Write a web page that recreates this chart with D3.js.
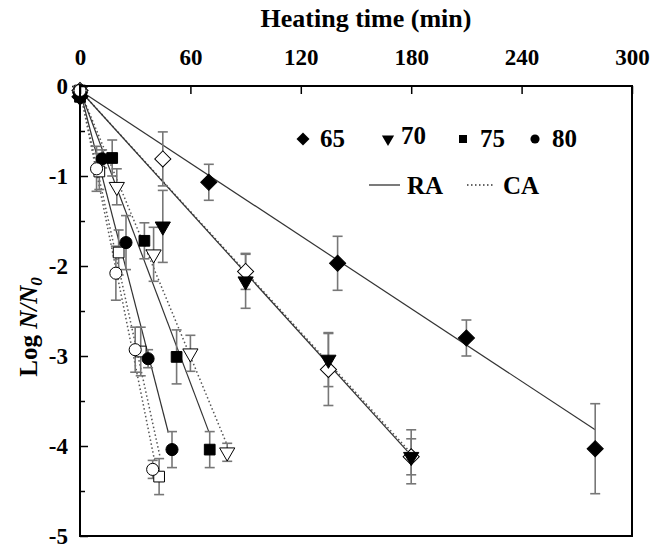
<!DOCTYPE html>
<html><head><meta charset="utf-8">
<script src="https://cdn.jsdelivr.net/npm/d3@7"></script>
<style>body{margin:0;background:#fff}svg{display:block}text{font-family:"Liberation Serif","Times New Roman",serif;font-weight:bold}</style>
</head><body><svg id="c" width="667" height="549"></svg>
<script>
// Tick labels
const xTicks = [0, 60, 120, 180, 240, 300];
const yTicks = [0, -1, -2, -3, -4, -5];
const yMinor = [-0.5, -1.5, -2.5, -3.5, -4.5];
const temps = ["65", "70", "75", "80"];
const methods = ["RA", "CA"];

// Data: time (min), log N/N0, error (±)
const t65RA = [0, 70, 140, 210, 280];
const v65RA = [-0.12, -1.07, -1.97, -2.80, -4.03];
const e65RA = [0, 0.2, 0.3, 0.2, 0.5];
const t65CA = [0, 45, 90, 135, 180];
const v65CA = [-0.05, -0.81, -2.06, -3.15, -4.12];
const e65CA = [0, 0.3, 0.2, 0.4, 0.3];
const t70RA = [0, 45, 90, 135, 180];
const v70RA = [-0.12, -1.56, -2.17, -3.04, -4.12];
const e70RA = [0, 0.4, 0.3, 0.3, 0.2];
const t70CA = [0, 20, 40, 60, 80];
const v70CA = [-0.05, -1.12, -1.87, -2.97, -4.07];
const e70CA = [0, 0.2, 0.3, 0.2, 0.1];
const t75RA = [0, 17.5, 35, 52.5, 70.5];
const v75RA = [-0.12, -0.80, -1.72, -3.01, -4.04];
const e75RA = [0, 0.2, 0.2, 0.3, 0.2];
const t75CA = [0, 10.5, 21, 33, 43];
const v75CA = [-0.05, -0.95, -1.85, -2.95, -4.34];
const e75CA = [0, 0.2, 0.25, 0.27, 0.2];
const t80RA = [0, 12, 25, 37, 50];
const v80RA = [-0.12, -0.81, -1.74, -3.03, -4.04];
const e80RA = [0, 0.1, 0.3, 0.1, 0.2];
const t80CA = [0, 9, 19.5, 30, 39.5];
const v80CA = [-0.05, -0.92, -2.08, -2.93, -4.26];
const e80CA = [0, 0.25, 0.3, 0.25, 0.1];

// Regression lines: [t0, y0, t1, y1]
const fit65RA = [0, -0.05, 280, -3.82];
const fit65CA = [0, -0.05, 180, -4.08];
const fit70RA = [0, -0.05, 178, -4.06];
const fit70CA = [0, -0.05, 80, -3.99];
const fit75RA = [0, -0.05, 70, -3.84];
const fit75CA = [0, -0.05, 43.5, -4.12];
const fit80RA = [0, -0.05, 48, -3.85];
const fit80CA = [0, -0.05, 40.8, -4.19];

const shapes = {"65": "diamond", "70": "tri", "75": "square", "80": "circle"};
const series = [
  {temp:"65", m:"RA", t:t65RA, v:v65RA, e:e65RA, fit:fit65RA},
  {temp:"65", m:"CA", t:t65CA, v:v65CA, e:e65CA, fit:fit65CA},
  {temp:"70", m:"RA", t:t70RA, v:v70RA, e:e70RA, fit:fit70RA},
  {temp:"70", m:"CA", t:t70CA, v:v70CA, e:e70CA, fit:fit70CA},
  {temp:"75", m:"RA", t:t75RA, v:v75RA, e:e75RA, fit:fit75RA},
  {temp:"75", m:"CA", t:t75CA, v:v75CA, e:e75CA, fit:fit75CA},
  {temp:"80", m:"RA", t:t80RA, v:v80RA, e:e80RA, fit:fit80RA},
  {temp:"80", m:"CA", t:t80CA, v:v80CA, e:e80CA, fit:fit80CA}
];

const L = 80, R = 632, T = 86, B = 536;
const x = d3.scaleLinear().domain([0, 300]).range([L, R]);
const y = d3.scaleLinear().domain([-5, 0]).range([B, T]);
const svg = d3.select("#c");

function symPath(shape, size) {
  if (shape === "diamond") return d3.symbol(d3.symbolSquare, size)();
  if (shape === "tri") return d3.symbol(d3.symbolTriangle, size)();
  if (shape === "square") return d3.symbol(d3.symbolSquare, size)();
  return d3.symbol(d3.symbolCircle, size)();
}
function symRot(shape) { return shape === "diamond" ? 45 : shape === "tri" ? 180 : 0; }
const sizes = {diamond: 130, tri: 100, square: 115, circle: 115};

// Fit lines
const lines = svg.append("g");
series.forEach(s => {
  lines.append("line")
    .attr("x1", x(s.fit[0])).attr("y1", y(s.fit[1]))
    .attr("x2", x(s.fit[2])).attr("y2", y(s.fit[3]))
    .attr("stroke", s.m === "RA" ? "#333" : "#555")
    .attr("stroke-width", s.m === "RA" ? 1.2 : 1.5)
    .attr("stroke-dasharray", s.m === "RA" ? null : "1.5,2.5");
});

// Error bars
const eb = svg.append("g").attr("stroke", "#777").attr("stroke-width", 1.6);
series.forEach(s => {
  s.t.forEach((t, i) => {
    const e = s.e[i];
    if (!e) return;
    const cx = x(t), y1 = y(s.v[i] + e), y2 = y(s.v[i] - e);
    eb.append("line").attr("x1", cx).attr("x2", cx).attr("y1", y1).attr("y2", y2);
    eb.append("line").attr("x1", cx - 5).attr("x2", cx + 5).attr("y1", y1).attr("y2", y1);
    eb.append("line").attr("x1", cx - 5).attr("x2", cx + 5).attr("y1", y2).attr("y2", y2);
  });
});

// Markers
const mk = svg.append("g");
series.forEach(s => {
  const shape = shapes[s.temp];
  s.t.forEach((t, i) => {
    mk.append("path")
      .attr("d", symPath(shape, sizes[shape]))
      .attr("transform", `translate(${x(t)},${y(s.v[i])}) rotate(${symRot(shape)})`)
      .attr("fill", s.m === "RA" ? "#000" : "#fff")
      .attr("stroke", "#000").attr("stroke-width", 1);
  });
});

// Axes
const axT = svg.append("g").attr("transform", `translate(0,${T})`)
  .call(d3.axisTop(x).tickValues(xTicks).tickSize(-8).tickPadding(21).tickFormat(d => String(d)));
const axL = svg.append("g").attr("transform", `translate(${L},0)`)
  .call(d3.axisLeft(y).tickValues(yTicks).tickSize(-8).tickPadding(12).tickFormat(d => String(d)));
svg.append("g").attr("transform", `translate(${L},0)`)
  .call(d3.axisLeft(y).tickValues(yMinor).tickSize(-5).tickFormat(""))
  .call(g => g.select(".domain").remove());
[axT, axL].forEach(g => {
  g.select(".domain").remove();
  g.selectAll("text").attr("font-size", 23).attr("fill", "#000")
    .attr("font-family", "Liberation Serif, Times New Roman, serif").attr("font-weight", "bold");
});
svg.selectAll(".tick line").attr("stroke", "#000").attr("stroke-width", 1.5);
svg.append("rect").attr("x", L).attr("y", T).attr("width", R - L).attr("height", B - T)
  .attr("fill", "none").attr("stroke", "#000").attr("stroke-width", 2);

// Axis titles
svg.append("text").attr("x", 366).attr("y", 27).attr("text-anchor", "middle")
  .attr("font-size", 26).text("Heating time (min)");
const yt = svg.append("text").attr("transform", "translate(37,327) rotate(-90)")
  .attr("text-anchor", "middle").attr("font-size", 25);
yt.append("tspan").text("Log ");
yt.append("tspan").attr("font-style", "italic").text("N/N");
yt.append("tspan").attr("font-style", "italic").attr("font-size", 17).attr("dy", 5).text("0");

// Legend
const leg = svg.append("g");
const legX = [303, 388, 463, 535];
temps.forEach((tp, i) => {
  const shape = shapes[tp];
  leg.append("path").attr("d", symPath(shape, shape === "diamond" ? 85 : 65))
    .attr("transform", `translate(${legX[i]},139) rotate(${symRot(shape)})`).attr("fill", "#000");
  leg.append("text").attr("x", legX[i] + (i === 1 ? 13 : 17)).attr("y", i === 1 ? 144 : 147)
    .attr("font-size", 25).text(tp);
});
const legLX = [369, 467];
methods.forEach((m, i) => {
  leg.append("line").attr("x1", legLX[i]).attr("x2", legLX[i] + (i === 0 ? 31 : 28))
    .attr("y1", 185).attr("y2", 185).attr("stroke", "#333").attr("stroke-width", 1.3)
    .attr("stroke-dasharray", i === 0 ? null : "1.5,2.5");
  leg.append("text").attr("x", legLX[i] + (i === 0 ? 38 : 36)).attr("y", 194)
    .attr("font-size", 25).text(m);
});
</script></body></html>
